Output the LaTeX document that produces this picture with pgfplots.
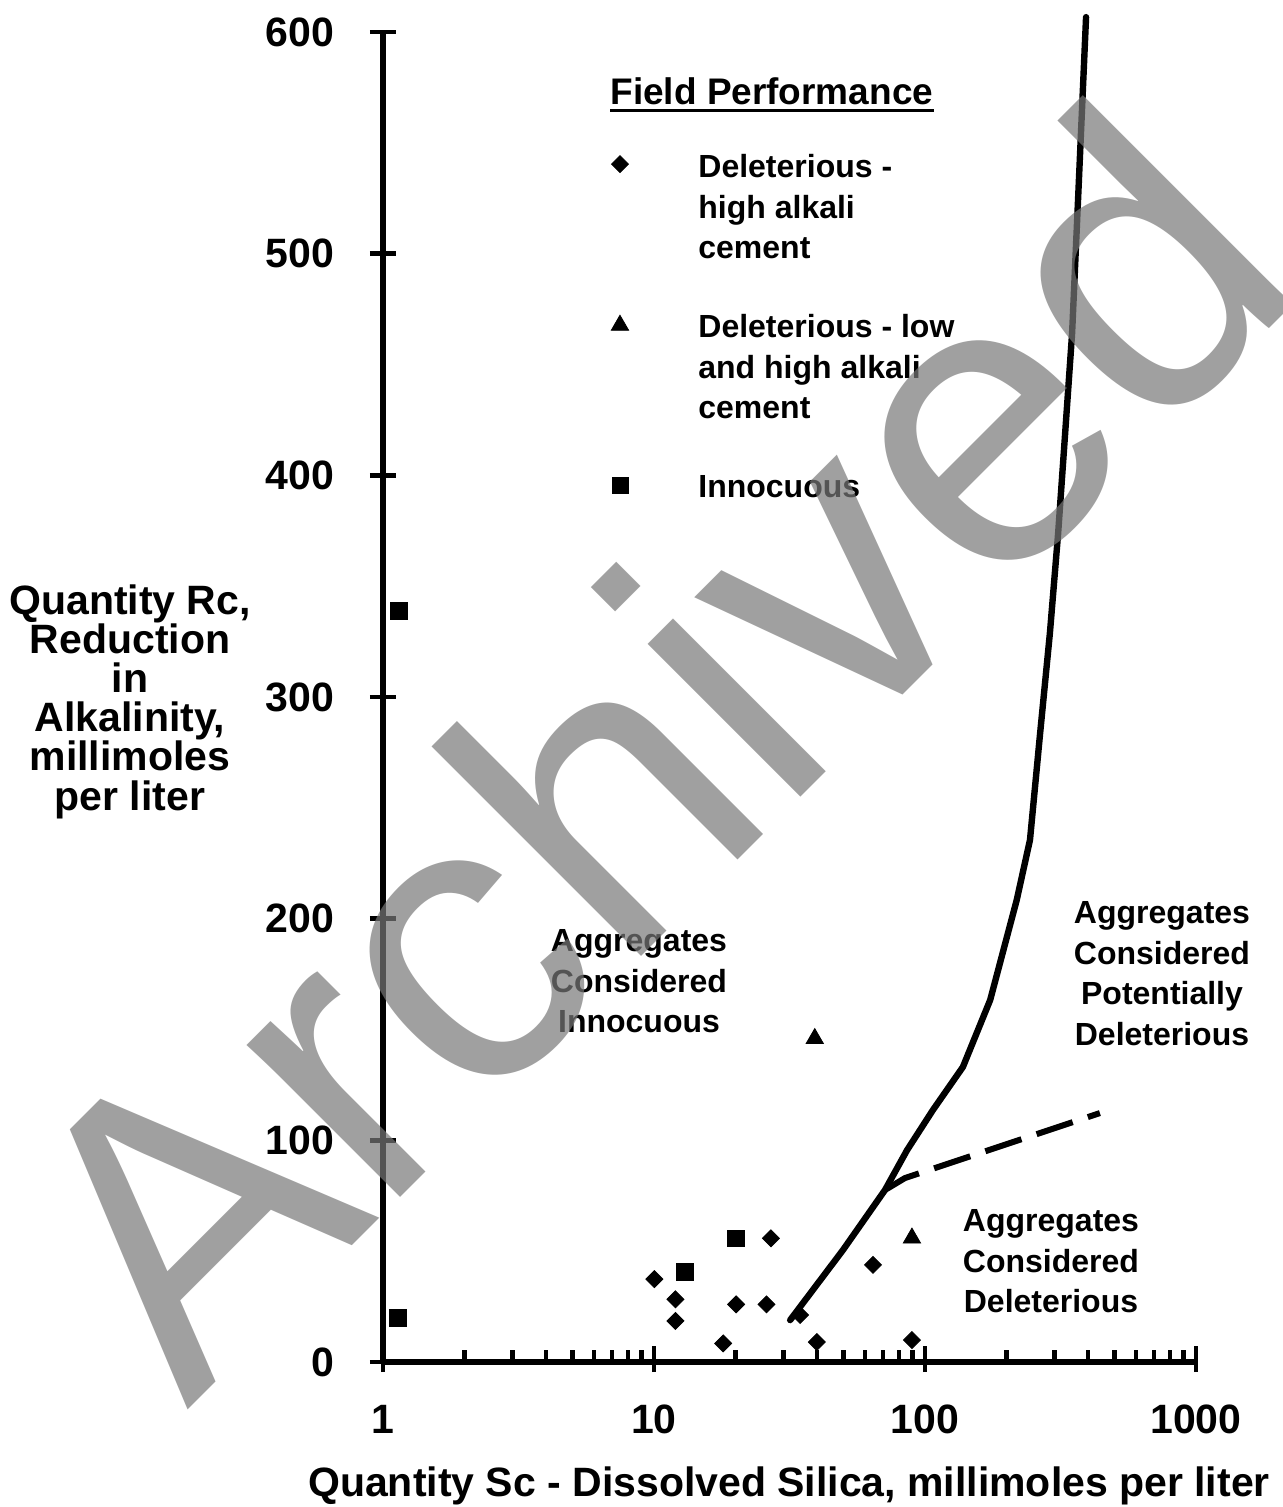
\documentclass[border=0pt]{standalone}
\usepackage{fontspec}
\setmainfont{Liberation Sans}
\usepackage{pgfplots}
\pgfplotsset{compat=1.18}
\newcommand\bodyfont{\fontsize{16bp}{20.3bp}\selectfont\bfseries}
\newcommand\bigfont{\fontsize{20.5bp}{19.6bp}\selectfont\bfseries}
\begin{document}
\begin{tikzpicture}
\begin{axis}[
  xmode=log, xmin=1, xmax=1000, ymin=0, ymax=600,
  width=406.5bp, height=665bp, scale only axis,
  axis x line*=bottom, axis y line*=left,
  axis line style={line width=2.6bp, -},
  xtick={1,10,100,1000}, xticklabels={1,10,100,1000},
  ytick={0,100,200,300,400,500,600},
  tick align=inside,
  major tick length=13bp, minor tick length=6bp,
  tick style={line width=2.2bp, black},
  major x tick style={yshift=-5bp},
  y tick style={xshift=-6.5bp},
  /pgf/number format/assume math mode=true,
  ticklabel style={font=\bigfont},
  xticklabel style={yshift=-18bp},
  yticklabel style={xshift=-21bp},
  clip=false,
]
% Deleterious - high alkali cement (diamonds)
\addplot[only marks, mark=square*, mark size=3bp, mark options={rotate=45, fill=black}] coordinates {
 (10.03,37.4) (12.0,28.3) (12.0,18.5) (18.0,8.4) (20.1,26.0) (26.0,26.0)
 (27.0,55.8) (34.6,21.2) (39.9,9.0) (64.3,43.8) (89.5,9.9)
};
% Deleterious - low and high alkali cement (triangles)
\addplot[only marks, mark=triangle*, mark size=5bp, mark options={fill=black}] coordinates {
 (39.2,145.9) (89.5,55.9)
};
% Innocuous (squares)
\addplot[only marks, mark=square*, mark size=4.2bp, mark options={fill=black}] coordinates {
 (1.147,338.8) (1.136,20.0) (13.0,40.7) (20.0,55.8)
};
% legend markers
\addplot[only marks, mark=square*, mark size=3bp, mark options={rotate=45, fill=black}] coordinates {(7.49,540.4)};
\addplot[only marks, mark=triangle*, mark size=5bp, mark options={fill=black}] coordinates {(7.49,467.7)};
\addplot[only marks, mark=square*, mark size=4bp, mark options={fill=black}] coordinates {(7.49,395.6)};
% boundary curve
\addplot[line width=3.2bp, line join=round, line cap=round] coordinates {
 (31.8,18.9) (49.8,50.5) (71.2,77.6) (85.9,95.6) (107,113.7) (138,133.1)
 (174,163.3) (218,208.4) (244,235.5) (266,283.7) (289,328.8) (310,373.9)
 (329,419) (349,464) (367,524) (393,606.7)
};
\addplot[line width=3bp, dash pattern=on 19bp off 8bp] coordinates {
 (71.2,77.6) (84.4,83) (442,112.3)
};
\end{axis}
% axis labels
\node[font=\bigfont, align=center, anchor=north, inner sep=0pt] at (-126.5bp,389bp)
  {Quantity Rc,\\Reduction\\in\\Alkalinity,\\millimoles\\per liter};
\node[font=\bigfont, anchor=north, inner sep=0pt] at (203bp,-52bp)
  {Quantity Sc - Dissolved Silica, millimoles per liter};
% legend
\node[font=\fontsize{18.5bp}{20bp}\selectfont\bfseries, anchor=base west, inner sep=0pt] (t) at (113.5bp,628.5bp) {Field Performance};
\draw[line width=1.4bp] ([yshift=-2.8bp]t.base west) -- ([yshift=-2.8bp]t.base east);
\node[font=\bodyfont, align=left, anchor=north west, inner sep=0pt] at (157.5bp,604bp) {Deleterious -\\high alkali\\cement};
\node[font=\bodyfont, align=left, anchor=north west, inner sep=0pt] at (157.5bp,524bp) {Deleterious - low\\and high alkali\\cement};
\node[font=\bodyfont, align=left, anchor=north west, inner sep=0pt] at (157.5bp,443.5bp) {Innocuous};
% region annotations
\node[font=\bodyfont, align=center, anchor=north, inner sep=0pt] at (128bp,216.5bp) {Aggregates\\Considered\\Innocuous};
\node[font=\bodyfont, align=center, anchor=north, inner sep=0pt] at (389.5bp,230.5bp) {Aggregates\\Considered\\Potentially\\Deleterious};
\node[font=\bodyfont, align=center, anchor=north, inner sep=0pt] at (334bp,76.5bp) {Aggregates\\Considered\\Deleterious};
% watermark
\node[font=\fontsize{204.5bp}{204.5bp}\selectfont, text=black!53, text opacity=0.7, rotate=45, anchor=base west, inner sep=0pt] at (-98bp,-24.5bp) {Archived};
\pgfresetboundingbox
\path[use as bounding box] (-191.5bp,-72.5bp) rectangle (450bp,681bp);
\end{tikzpicture}
\end{document}
